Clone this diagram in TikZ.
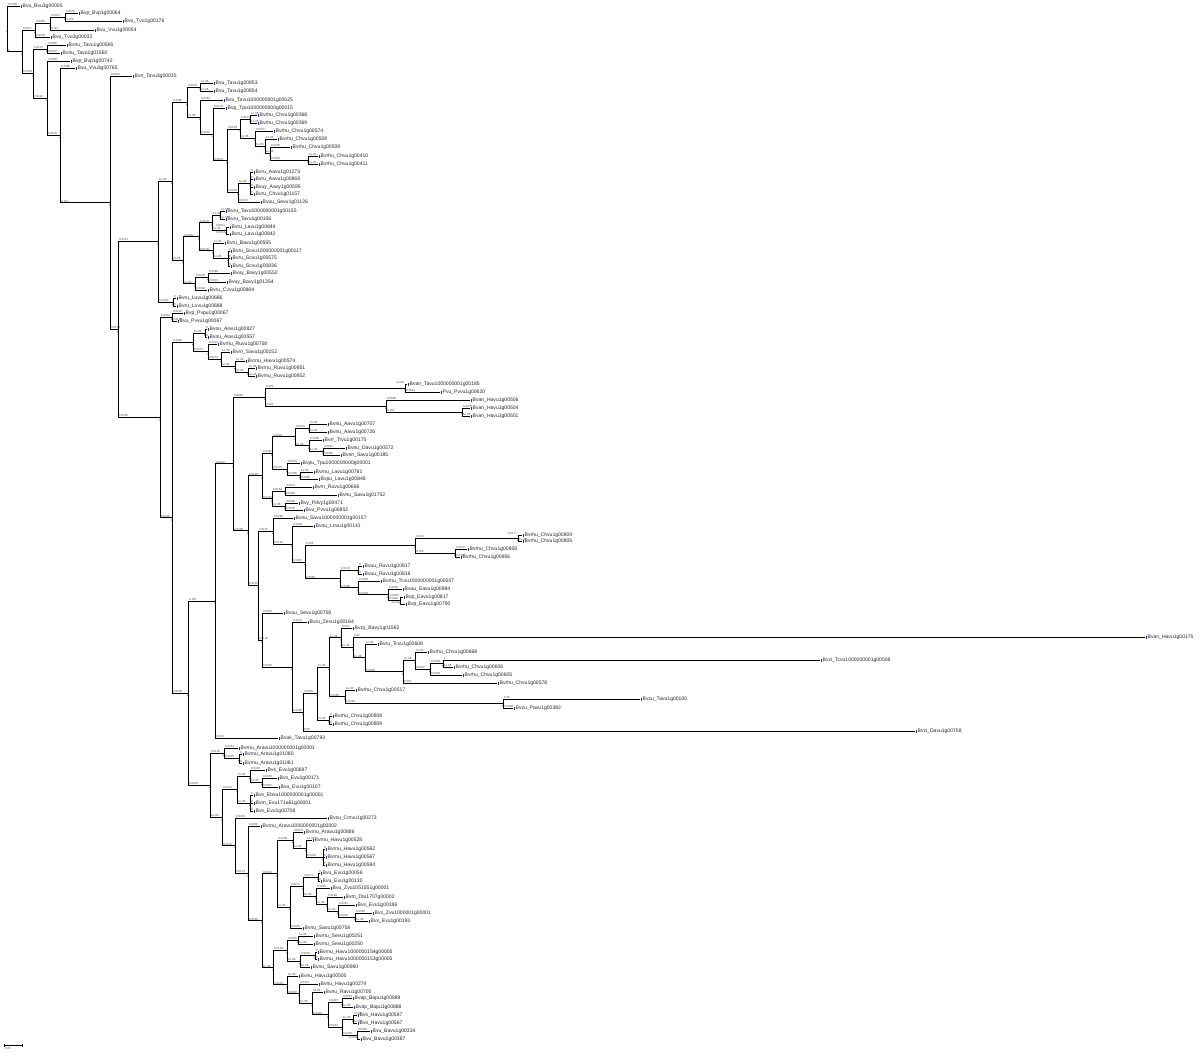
\documentclass[tikz,border=0pt]{standalone}
\usepackage{fontspec}
\setmainfont{Liberation Sans}
\definecolor{tipblue}{RGB}{40,40,200}
\definecolor{nodered}{RGB}{215,50,50}
\newcommand\myleaf[4]{\node[leaf] (#1) at (#2,#3) {\textcolor{tipblue}{\rule[-0.4pt]{0.8pt}{2pt}}\,#4};}
\newcommand\mynode[3]{\coordinate (#1) at (#2,#3);\fill[nodered] (#2,{#3+2.2}) circle (0.8);}
\newcommand\myedge[3]{\draw[br] (#1) |- (#2) node[pos=0.5,lab]{#3};}
\newcommand\myleafedge[3]{\draw[br] (#1) |- (#2.west) node[pos=0.5,lab]{#3};}
\newcommand\myleafedgeL[3]{\draw[br] (#1) |- (#2.west) node[pos=0.5,labL]{#3};}
\begin{document}
\begin{tikzpicture}[x=0.25mm,y=-0.25mm,
 br/.style={line width=0.6pt,line cap=rect},
 lab/.style={anchor=south west,inner sep=0.15pt,xshift=0.3pt,font=\fontsize{2.1}{2.3}\selectfont,text=black!70},
 labL/.style={anchor=south east,inner sep=0.15pt,xshift=-0.3pt,font=\fontsize{2.1}{2.3}\selectfont,text=black!70},
 leaf/.style={anchor=west,inner sep=0.3pt,font=\fontsize{3.6}{3.8}\selectfont,text=black!85}]
\useasboundingbox (0,0) rectangle (1200,1056);
% ---------- leaves ----------
\myleaf{a1}{20}{6}{Bvu\_Bvu3g00005}
\myleaf{a2}{78}{13}{Bvp\_Bvp1g00064}
\myleaf{a3}{122}{21}{Bvu\_Tvu1g00176}
\myleaf{a4}{94}{30}{Bvu\_Vvu1g00054}
\myleaf{a5}{50}{37}{Bvu\_Tvu3g00032}
\myleaf{a6}{66}{45}{Bvnu\_Tavu1g00565}
\myleaf{a7}{60}{53}{Bvnu\_Tavu1g01560}
\myleaf{a8}{70}{61}{Bvp\_Bvp1g00742}
\myleaf{a9}{75}{68}{Bvu\_Vvu3g00765}
\myleaf{a10}{132}{76}{Bvn\_Tavu3g00035}
\myleaf{p1}{213}{83}{Bvu\_Tavu1g00853}
\myleaf{p2}{213}{91}{Bvu\_Tavu1g00854}
\myleaf{p3}{223}{100}{Bvu\_Tavu1000000001g00525}
\myleaf{p4}{225}{108}{Bvp\_Tpu1000000000g00015}
\myleaf{q1}{257}{115}{Bvrhu\_Chvu1g00368}
\myleaf{q2}{257}{123}{Bvrhu\_Chvu1g00369}
\myleaf{q3}{273}{131}{Bvrhu\_Chvu1g00574}
\myleaf{q4}{277}{139}{Bvrhu\_Chvu1g00508}
\myleaf{q5}{290}{147}{Bvrhu\_Chvu1g00509}
\myleaf{q6}{318}{156}{Bvrhu\_Chvu1g00410}
\myleaf{q7}{318}{164}{Bvrhu\_Chvu1g00411}
\myleaf{q8}{253}{172}{Bvru\_Aavu1g01273}
\myleaf{q9}{253}{179}{Bvru\_Aavu1g00868}
\myleaf{q10}{253}{187}{Bvuy\_Aavy1g00595}
\myleaf{q11}{253}{194}{Bvru\_Chvu1g01157}
\myleaf{q12}{260}{202}{Bvuu\_Sevu1g01126}
\myleaf{s1}{225}{211}{Bvru\_Tavu1000000001g00155}
\myleaf{s2}{225}{219}{Bvru\_Tavu1g00156}
\myleaf{s3}{229}{227}{Bvru\_Lavu1g00844}
\myleaf{s4}{229}{234}{Bvru\_Lavu1g00842}
\myleaf{s5}{224}{243}{Bvru\_Bavu1g00595}
\myleaf{s6}{230}{251}{Bvru\_Scvu1000000001g00117}
\myleaf{s7}{230}{258}{Bvru\_Scvu1g00575}
\myleaf{s8}{230}{266}{Bvru\_Scvu1g00836}
\myleaf{s9}{230}{273}{Bvuy\_Bavy1g00552}
\myleaf{s10}{226}{282}{Bvuy\_Bavy1g01354}
\myleaf{s11}{207}{290}{Bvru\_Cvvu1g00884}
\myleaf{s12}{176}{298}{Bvru\_Luvu1g00686}
\myleaf{s13}{176}{306}{Bvru\_Luvu1g00688}
\myleaf{s14}{183}{313}{Bvp\_Pvpu1g00067}
\myleaf{s15}{177}{321}{Bvu\_Pvvu1g00067}
\myleaf{w1}{207}{329}{Bvnu\_Asvu1g00827}
\myleaf{w2}{207}{337}{Bvnu\_Asvu1g00557}
\myleaf{w3}{217}{344}{Bvrhu\_Ruvu1g00758}
\myleaf{w4}{230}{352}{Bvrn\_Savu1g00152}
\myleaf{w5}{245}{361}{Bvrnu\_Havu1g00574}
\myleaf{w6}{255}{368}{Bvrnu\_Ruvu1g00851}
\myleaf{w7}{255}{376}{Bvrnu\_Ruvu1g00852}
\myleaf{y1}{407}{384}{Bvan\_Tavu1000000001g00185}
\myleaf{y2}{440}{392}{Pvu\_Pvvu1g00620}
\myleaf{y3}{470}{400}{Bvan\_Havu1g00506}
\myleaf{y4}{470}{408}{Bvan\_Havu1g00504}
\myleaf{y5}{470}{416}{Bvan\_Havu1g00501}
\myleaf{z1}{327}{424}{Bvnu\_Aavu1g00707}
\myleaf{z2}{327}{432}{Bvnu\_Aavu1g00726}
\myleaf{z3}{322}{440}{Bvrr\_Trvu1g00175}
\myleaf{z4}{345}{448}{Bvnu\_Davu1g00572}
\myleaf{z5}{340}{455}{Bvnn\_Savu1g00185}
\myleaf{z6}{300}{463}{Bvpu\_Tpu1000000000g00001}
\myleaf{z7}{313}{472}{Bvrnu\_Lavu1g00781}
\myleaf{z8}{318}{479}{Bvpu\_Lavu1g00848}
\myleaf{z9}{312}{487}{Bvrn\_Ruvu1g00666}
\myleaf{z10}{337}{495}{Bvnu\_Savu1g01752}
\myleaf{z11}{298}{503}{Bvy\_Pdvy1g00471}
\myleaf{z12}{303}{510}{Bvu\_Pvvu1g00852}
\myleaf{z13}{293}{518}{Bvnu\_Savu1000000001g00157}
\myleaf{z14}{313}{526}{Bvnu\_Lovu1g00141}
\myleaf{b1}{522}{535}{Bvrhu\_Chvu1g00804}
\myleaf{b2}{522}{541}{Bvrhu\_Chvu1g00805}
\myleaf{b3}{467}{549}{Bvrhu\_Chvu1g00858}
\myleaf{b4}{460}{557}{Bvrhu\_Chvu1g00856}
\myleaf{b5}{362}{566}{Bvuu\_Ruvu1g00817}
\myleaf{b6}{362}{574}{Bvuu\_Ruvu1g00818}
\myleaf{b7}{380}{581}{Bvrnu\_Tcvu1000000001g00507}
\myleaf{b8}{402}{589}{Bvuu\_Eavu1g00884}
\myleaf{b9}{403}{597}{Bvp\_Eavu1g00817}
\myleaf{b10}{405}{604}{Bvp\_Eavu1g00790}
\myleaf{c1}{283}{613}{Bvuu\_Sevu1g00758}
\myleaf{d1}{307}{622}{Bvru\_Zevu1g00184}
\myleaf{d2}{352}{628}{Bvzy\_Bavy1g01562}
\myleaf{d3}{1145}{637}{Bvan\_Havu1g00175}
\myleaf{d4}{377}{644}{Bvru\_Tcvu1g00608}
\myleaf{d5}{427}{652}{Bvrhu\_Chvu1g00668}
\myleaf{d6}{820}{660}{Bvzi\_Tcvu1000000001g00508}
\myleaf{d7}{453}{667}{Bvrhu\_Chvu1g00606}
\myleaf{d8}{462}{675}{Bvrhu\_Chvu1g00605}
\myleaf{d9}{497}{683}{Bvrhu\_Chvu1g00578}
\myleaf{d10}{355}{690}{Bvrhu\_Chvu1g00517}
\myleaf{d11}{640}{699}{Bvzu\_Tavu1g00100}
\myleaf{d12}{513}{708}{Bvzu\_Pavu1g00382}
\myleaf{d13}{332}{716}{Bvrhu\_Chvu1g00808}
\myleaf{d14}{332}{724}{Bvrhu\_Chvu1g00809}
\myleaf{d15}{915}{731}{Bvzi\_Davu1g00758}
\myleaf{e1}{278}{738}{Bvuk\_Tavu1g00793}
\myleaf{f1}{238}{748}{Bvrnu\_Aravu1000000001g00001}
\myleaf{f2}{242}{754}{Bvrnu\_Aravu1g01080}
\myleaf{f3}{242}{763}{Bvrnu\_Aravu1g01081}
\myleaf{g1}{265}{770}{Bvs\_Evu1g00697}
\myleaf{g2}{277}{778}{Bvs\_Evu1g00171}
\myleaf{g3}{278}{787}{Bvu\_Evu1g00107}
\myleaf{g4}{253}{795}{Bvs\_Ebvu1000000001g00001}
\myleaf{g5}{253}{803}{Bvm\_Evu171a61g00001}
\myleaf{g6}{253}{811}{Bvs\_Evu1g00708}
\myleaf{h0}{327}{818}{Bvzu\_Cmvu1g00273}
\myleaf{h1}{260}{826}{Bvrnu\_Aravu1000000001g00002}
\myleaf{h2}{303}{832}{Bvrnu\_Aravu1g00886}
\myleaf{h3}{312}{840}{Bvrnu\_Havu1g00528}
\myleaf{h4}{325}{849}{Bvrnu\_Havu1g00562}
\myleaf{h5}{325}{857}{Bvrnu\_Havu1g00567}
\myleaf{h6}{325}{865}{Bvrnu\_Havu1g00584}
\myleaf{h7}{320}{873}{Bvu\_Evu1g00056}
\myleaf{h8}{320}{881}{Bvu\_Evu1g00130}
\myleaf{h9}{330}{888}{Bvu\_Zvu1051551g00001}
\myleaf{h10}{343}{897}{Bvm\_Dtu1707g00002}
\myleaf{h11}{355}{905}{Bvs\_Evu1g00186}
\myleaf{h12}{372}{913}{Bvs\_Zvu1000001g00001}
\myleaf{h13}{368}{921}{Bvs\_Evu1g00190}
\myleaf{h14}{302}{928}{Bvnu\_Savu1g00758}
\myleaf{h15}{313}{936}{Bvrnu\_Sevu1g00251}
\myleaf{h16}{313}{944}{Bvrnu\_Sevu1g00250}
\myleaf{h17}{317}{952}{Bvrnu\_Havu1000000154g00005}
\myleaf{h18}{317}{959}{Bvrnu\_Havu1000000153g00005}
\myleaf{h19}{310}{967}{Bvnu\_Savu1g00960}
\myleaf{h20}{298}{976}{Bvnu\_Havu1g00505}
\myleaf{h21}{318}{984}{Bvnu\_Havu1g00274}
\myleaf{h22}{323}{992}{Bvnu\_Ravu1g00700}
\myleaf{h23}{352}{998}{Bvap\_Bapu1g00889}
\myleaf{h24}{353}{1007}{Bvap\_Bapu1g00888}
\myleaf{h25}{357}{1015}{Bvs\_Havu1g00587}
\myleaf{h26}{357}{1023}{Bvs\_Havu1g00567}
\myleaf{h27}{370}{1031}{Bvu\_Bavu1g00334}
\myleaf{h28}{360}{1039}{Bvu\_Bavu1g00387}
% ---------- internal nodes ----------
\mynode{R}{7}{28.95}\mynode{n1}{22}{51.9}\mynode{n2}{35}{30.25}\mynode{D}{50}{23.5}
\mynode{E}{65}{17}\mynode{F}{47}{49}\mynode{ne}{33}{73.6}\mynode{nd}{47}{98.2}
\mynode{na}{60}{135.4}\mynode{nb}{110}{202.75}\mynode{nc}{118}{329.5}
\mynode{P7}{158}{241.6}\mynode{P6}{172}{181.2}\mynode{P4}{187}{102.1}\mynode{P5}{200}{87}
\mynode{P3}{200}{117.2}\mynode{P2}{213}{134.4}\mynode{Q1}{227}{160.75}\mynode{Q2}{240}{129}
\mynode{Q3}{250}{119}\mynode{Q4}{255}{138.5}\mynode{Q5}{265}{146}\mynode{Q6}{270}{153.5}
\mynode{Q7}{308}{160}\mynode{QA}{238}{192.5}\mynode{Q8}{250}{183}
\mynode{S7}{183}{260.25}\mynode{S4}{199}{236.75}\mynode{S3}{212}{222.75}\mynode{S1}{220}{215}
\mynode{S2}{226}{230.5}\mynode{S5}{213}{250.75}\mynode{S6}{228}{258.5}\mynode{S8}{195}{283.75}
\mynode{S9}{208}{277.5}\mynode{S10}{173}{302}\mynode{S12}{172}{317}
\mynode{U}{160}{417.4}\mynode{V}{172}{517.75}
\mynode{W0}{193}{342.3}\mynode{W1}{205}{333}\mynode{W2}{208}{351.6}\mynode{W3}{221}{359.25}
\mynode{W4}{235}{366.5}\mynode{W5}{248}{372}
\mynode{EB}{188}{693.2}\mynode{EA}{215}{600.95}\mynode{Y5}{233}{463.9}\mynode{Y4}{265}{397}
\mynode{Y3}{405}{388}\mynode{Y2}{386}{406}\mynode{Y1}{462}{412}
\mynode{AB}{248}{530.75}\mynode{AA}{262}{475.9}\mynode{Z5}{272}{453.1}\mynode{Z2}{295}{436.9}
\mynode{Z1}{309}{428}\mynode{Z3}{309}{445.75}\mynode{Z4}{323}{451.5}\mynode{Z6}{287}{469.25}
\mynode{Z7}{300}{475.5}\mynode{Z8}{272}{498.75}\mynode{Z9}{285}{491}\mynode{Z10}{285}{506.5}
\mynode{CA}{258}{585.6}\mynode{BJ}{273}{531.05}\mynode{BI}{292}{544.1}\mynode{BB}{305}{562.2}
\mynode{BC}{415}{545.5}\mynode{B1}{518}{538}\mynode{B2}{455}{553}\mynode{BD}{340}{578.9}
\mynode{BE}{358}{570}\mynode{BF}{358}{587.9}\mynode{BG}{388}{594.75}\mynode{BH}{400}{600.5}
\mynode{CB}{262}{640.1}\mynode{DA}{292}{667.15}\mynode{DB}{303}{712.3}\mynode{DC}{317}{693.6}
\mynode{DD}{329}{667.2}\mynode{DE}{329}{720}\mynode{DF}{341}{637.7}\mynode{DH}{353}{647.45}
\mynode{DI}{365}{657.9}\mynode{DJ}{403}{671.8}\mynode{DK}{415}{660.6}\mynode{DL}{430}{669.25}
\mynode{DM}{443}{663.5}\mynode{DG}{345}{696.75}\mynode{DN}{503}{703.5}
\mynode{EC}{210}{785.45}\mynode{FB}{224}{753.25}\mynode{FA}{239}{758.5}\mynode{GE}{222}{817.65}
\mynode{GD}{237}{789.6}\mynode{GB}{250}{776.25}\mynode{GA}{262}{782.5}\mynode{GC}{250}{803}
\mynode{GG}{235}{845.7}\mynode{GH}{248}{873.35}\mynode{HL}{262}{920.7}\mynode{HD}{277}{873.75}
\mynode{HC}{293}{840.25}\mynode{HB}{306}{848.5}\mynode{HA}{323}{857}\mynode{HK}{290}{907.25}
\mynode{HF}{303}{886.5}\mynode{HE}{318}{877}\mynode{HG}{316}{896}\mynode{HH}{327}{904}
\mynode{HI}{338}{911}\mynode{HJ}{355}{917}\mynode{HM}{273}{967.7}\mynode{HO}{287}{950.6}
\mynode{HN}{298}{940}\mynode{HQ}{300}{961.25}\mynode{HP}{315}{955.5}\mynode{HS}{287}{984.85}
\mynode{HT}{299}{993.7}\mynode{HU}{312}{1003.4}\mynode{HV}{328}{1014.75}\mynode{HW}{342}{1002.5}
\mynode{HX}{342}{1027}\mynode{HY}{353}{1019}\mynode{HZ}{357}{1035}
% ---------- edges ----------
\myleafedge{R}{a1}{0.0356}\myedge{R}{n1}{0}
\myedge{n1}{n2}{0.0277}\myedge{n1}{ne}{0.0358}
\myedge{n2}{D}{0.0265}\myleafedge{n2}{a5}{0.0238}
\myedge{D}{E}{0.0337}\myleafedge{D}{a4}{0.113}
\myleafedge{E}{a2}{0.0556}\myleafedge{E}{a3}{0.132}
\myedge{ne}{F}{0.0173}\myedge{ne}{nd}{0.0112}
\myleafedge{F}{a6}{0.0586}\myleafedge{F}{a7}{0.0407}
\myleafedge{nd}{a8}{0.0598}\myedge{nd}{na}{0.0105}
\myleafedge{na}{a9}{0.0386}\myedge{na}{nb}{0.131}
\myleafedge{nb}{a10}{0.0562}\myedge{nb}{nc}{0.0133}
\myedge{nc}{P7}{0.0141}\myedge{nc}{U}{0.0195}
\myedge{P7}{P6}{1e-06}\myedge{P7}{S10}{0.0219}
\myedge{P6}{P4}{0.0386}\myedge{P6}{S7}{1e-06}
\myedge{P4}{P5}{0.0102}\myedge{P4}{P3}{1e-06}
\myleafedge{P5}{p1}{1e-06}\myleafedge{P5}{p2}{1e-06}
\myleafedge{P3}{p3}{0.0364}\myedge{P3}{P2}{0.0216}
\myleafedge{P2}{p4}{0.0134}\myedge{P2}{Q1}{0.0213}
\myedge{Q1}{Q2}{0.0193}\myedge{Q1}{QA}{0.0184}
\myedge{Q2}{Q3}{0.0124}\myedge{Q2}{Q4}{1e-06}
\myleafedge{Q3}{q1}{1e-06}\myleafedge{Q3}{q2}{1e-06}
\myleafedge{Q4}{q3}{0.0257}\myedge{Q4}{Q5}{1e-06}
\myleafedge{Q5}{q4}{1e-06}\myedge{Q5}{Q6}{1e-06}
\myleafedge{Q6}{q5}{0.0236}\myedge{Q6}{Q7}{0.0583}
\myleafedge{Q7}{q6}{1e-06}\myleafedge{Q7}{q7}{1e-06}
\myedge{QA}{Q8}{1e-06}\myleafedge{QA}{q12}{0.0137}
\myleafedge{Q8}{q8}{0}\myleafedge{Q8}{q9}{0}\myleafedge{Q8}{q10}{0}\myleafedge{Q8}{q11}{0}
\myedge{S7}{S4}{0.0356}\myedge{S7}{S8}{1e-06}
\myedge{S4}{S3}{0.0178}\myedge{S4}{S5}{0.0136}
\myedge{S3}{S1}{1e-06}\myedge{S3}{S2}{1e-06}
\myleafedge{S1}{s1}{1e-06}\myleafedge{S1}{s2}{1e-06}
\myleafedgeL{S2}{s3}{0.0011}\myleafedgeL{S2}{s4}{0.0012}
\myleafedge{S5}{s5}{1e-06}\myedge{S5}{S6}{1e-06}
\myleafedge{S6}{s6}{0}\myleafedge{S6}{s7}{0}\myleafedge{S6}{s8}{0}
\myedge{S8}{S9}{0.0215}\myleafedge{S8}{s11}{0.0313}
\myleafedge{S9}{s9}{0.0348}\myleafedge{S9}{s10}{0.0394}
\myleafedge{S10}{s12}{0}\myleafedge{S10}{s13}{0}
\myedge{U}{S12}{0.0331}\myedge{U}{V}{0.0138}
\myleafedge{S12}{s14}{0.0203}\myleafedge{S12}{s15}{0.0162}
\myedge{V}{W0}{0.0445}\myedge{V}{EB}{0.0188}
\myedge{W0}{W1}{1e-06}\myedge{W0}{W2}{0.0271}
\myleafedge{W1}{w1}{0}\myleafedge{W1}{w2}{0}
\myleafedge{W2}{w3}{0.0218}\myedge{W2}{W3}{0.0273}
\myleafedge{W3}{w4}{1e-06}\myedge{W3}{W4}{1e-06}
\myleafedge{W4}{w5}{1e-06}\myedge{W4}{W5}{1e-06}
\myleafedge{W5}{w6}{1e-06}\myleafedge{W5}{w7}{1e-06}
\myedge{EB}{EA}{0.161}\myedge{EB}{EC}{0.0315}
\myedge{EA}{Y5}{0.0322}\myleafedge{EA}{e1}{0.034}
\myedge{Y5}{Y4}{0.0845}\myedge{Y5}{AB}{0.0293}
\myedge{Y4}{Y3}{0.361}\myedge{Y4}{Y2}{0.301}
\myleafedgeL{Y3}{y1}{1e-06}\myleafedge{Y3}{y2}{0.0619}
\myleafedge{Y2}{y3}{0.0568}\myedge{Y2}{Y1}{0.193}
\myleafedge{Y1}{y4}{0.0379}\myleafedge{Y1}{y5}{1e-06}
\myedge{AB}{AA}{0.0198}\myedge{AB}{CA}{0.0145}
\myedge{AA}{Z5}{0.0467}\myedge{AA}{Z8}{0.0251}
\myedge{Z5}{Z2}{0.0326}\myedge{Z5}{Z6}{0.0279}
\myedge{Z2}{Z1}{0.0351}\myedge{Z2}{Z3}{1e-06}
\myleafedge{Z1}{z1}{1e-06}\myleafedge{Z1}{z2}{1e-06}
\myleafedge{Z3}{z3}{0.0399}\myedge{Z3}{Z4}{1e-06}
\myleafedge{Z4}{z4}{0.0667}\myleafedge{Z4}{z5}{0.0385}
\myleafedge{Z6}{z6}{0.0353}\myedge{Z6}{Z7}{0.0366}
\myleafedge{Z7}{z7}{1e-06}\myleafedge{Z7}{z8}{0.0486}
\myedge{Z8}{Z9}{0.0164}\myedge{Z8}{Z10}{1e-06}
\myleafedge{Z9}{z9}{0.0371}\myleafedge{Z9}{z10}{0.0449}
\myleafedge{Z10}{z11}{0.0298}\myleafedge{Z10}{z12}{0.0255}
\myedge{CA}{BJ}{0.0115}\myedge{CA}{CB}{0.0136}
\myleafedge{BJ}{z13}{0.0269}\myedge{BJ}{BI}{0.0195}
\myleafedge{BI}{z14}{0.0438}\myedge{BI}{BB}{0.0367}
\myedge{BB}{BC}{0.255}\myedge{BB}{BD}{0.0986}
\myedge{BC}{B1}{0.243}\myedge{BC}{B2}{0.108}
\myleafedgeL{B1}{b1}{0.0177}\myleafedge{B1}{b2}{1e-06}
\myleafedge{B2}{b3}{0.0176}\myleafedge{B2}{b4}{0.0408}
\myedge{BD}{BE}{0.0132}\myedge{BD}{BF}{0.0486}
\myleafedge{BE}{b5}{0}\myleafedge{BE}{b6}{0}
\myleafedge{BF}{b7}{0.0583}\myedge{BF}{BG}{0.0239}
\myleafedge{BG}{b8}{0.0356}\myedge{BG}{BH}{0.0302}
\myleafedgeL{BH}{b9}{0.0052}\myleafedgeL{BH}{b10}{1e-06}
\myleafedge{CB}{c1}{0.0519}\myedge{CB}{DA}{0.0245}
\myleafedge{DA}{d1}{0.0331}\myedge{DA}{DB}{0.0206}
\myedge{DB}{DC}{0.0349}\myleafedge{DB}{d15}{0.66}
\myedge{DC}{DD}{1e-06}\myedge{DC}{DE}{1e-06}
\myedge{DD}{DF}{1e-06}\myedge{DD}{DG}{0.0366}
\myleafedge{DF}{d2}{0.031}\myedge{DF}{DH}{1e-06}
\myleafedge{DH}{d3}{0.92}\myedge{DH}{DI}{1e-06}
\myleafedge{DI}{d4}{1e-06}\myedge{DI}{DJ}{0.0983}
\myedge{DJ}{DK}{1e-06}\myleafedge{DJ}{d9}{0.251}
\myleafedge{DK}{d5}{1e-06}\myedge{DK}{DL}{0.0447}
\myedge{DL}{DM}{0.0388}\myleafedge{DL}{d8}{0.0318}
\myleafedge{DM}{d6}{1}\myleafedge{DM}{d7}{1e-06}
\myleafedge{DG}{d10}{1e-06}\myedge{DG}{DN}{0.0326}
\myleafedge{DN}{d11}{0.45}\myleafedge{DN}{d12}{0.0308}
\myleafedge{DE}{d13}{0}\myleafedge{DE}{d14}{0}
\myedge{EC}{FB}{0.0146}\myedge{EC}{GE}{1e-06}
\myleafedge{FB}{f1}{0.0351}\myedge{FB}{FA}{0.0225}
\myleafedge{FA}{f2}{0}\myleafedge{FA}{f3}{0}
\myedge{GE}{GD}{0.0413}\myedge{GE}{GG}{0.0119}
\myedge{GD}{GB}{1e-06}\myedge{GD}{GC}{1e-06}
\myleafedge{GB}{g1}{0.0436}\myedge{GB}{GA}{1e-06}
\myleafedge{GA}{g2}{0.0356}\myleafedge{GA}{g3}{0.0387}
\myleafedge{GC}{g4}{0}\myleafedge{GC}{g5}{0}\myleafedge{GC}{g6}{0}
\myleafedge{GG}{h0}{0.0293}\myedge{GG}{GH}{0.0171}
\myleafedge{GH}{h1}{0.0216}\myedge{GH}{HL}{0.0329}
\myedge{HL}{HD}{0.0316}\myedge{HL}{HM}{1e-06}
\myedge{HD}{HC}{0.0259}\myedge{HD}{HK}{1e-06}
\myleafedge{HC}{h2}{0.0275}\myedge{HC}{HB}{1e-06}
\myleafedge{HB}{h3}{1e-06}\myedge{HB}{HA}{0.0416}
\myleafedge{HA}{h4}{0}\myleafedge{HA}{h5}{0}\myleafedge{HA}{h6}{0}
\myedge{HK}{HF}{0.0271}\myleafedge{HK}{h14}{0.0242}
\myedge{HF}{HE}{0.0271}\myedge{HF}{HG}{1e-06}
\myleafedge{HE}{h7}{0}\myleafedge{HE}{h8}{0}
\myleafedge{HG}{h9}{0.0353}\myedge{HG}{HH}{1e-06}
\myleafedge{HH}{h10}{0.0298}\myedge{HH}{HI}{1e-06}
\myleafedge{HI}{h11}{0.0361}\myedge{HI}{HJ}{0.0356}
\myleafedge{HJ}{h12}{0.0385}\myleafedge{HJ}{h13}{1e-06}
\myedge{HM}{HO}{0.0136}\myedge{HM}{HS}{0.0249}
\myedge{HO}{HN}{0.0236}\myedge{HO}{HQ}{1e-06}
\myleafedge{HN}{h15}{1e-06}\myleafedge{HN}{h16}{1e-06}
\myedge{HQ}{HP}{0.0252}\myleafedge{HQ}{h19}{1e-06}
\myleafedge{HP}{h17}{0}\myleafedge{HP}{h18}{0}
\myleafedge{HS}{h20}{1e-06}\myedge{HS}{HT}{0.0338}
\myleafedge{HT}{h21}{0.0421}\myedge{HT}{HU}{1e-06}
\myleafedge{HU}{h22}{1e-06}\myedge{HU}{HV}{0.0426}
\myedge{HV}{HW}{0.0297}\myedge{HV}{HX}{0.0291}
\myleafedge{HW}{h23}{0.0283}\myleafedge{HW}{h24}{1e-06}
\myedge{HX}{HY}{1e-06}\myedge{HX}{HZ}{0.0293}
\myleafedge{HY}{h25}{1e-06}\myleafedge{HY}{h26}{1e-06}
\myleafedge{HZ}{h27}{0.0383}\myleafedgeL{HZ}{h28}{1e-06}
% ---------- scale bar ----------
\coordinate (sb1) at (4,1045); \coordinate (sb2) at (22,1045);
\draw[line width=0.4pt] (sb1) -- (sb2);
\draw[line width=0.4pt] (sb1) ++(0,-1.5) -- ++(0,3);
\draw[line width=0.4pt] (sb2) ++(0,-1.5) -- ++(0,3);
\node[lab,anchor=north west] (sblab) at (4,1047) {0.05};
\end{tikzpicture}
\end{document}
